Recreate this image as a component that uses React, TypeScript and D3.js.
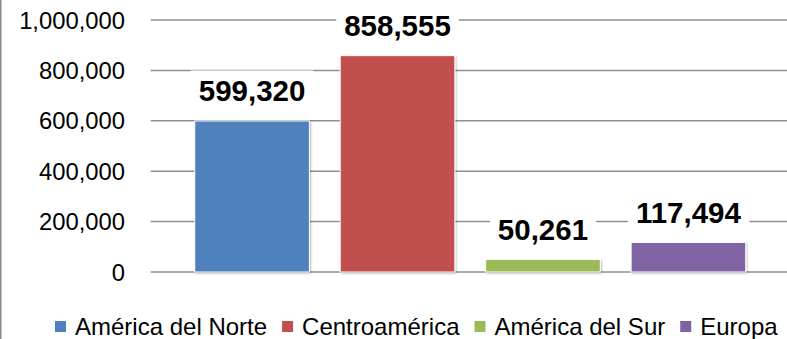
import React, { useEffect, useRef } from "react";
import * as d3 from "d3";

const categories = ["América del Norte", "Centroamérica", "América del Sur", "Europa"];
const values = [599320, 858555, 50261, 117494];
const colors = ["#4F81BD", "#C0504D", "#9BBB59", "#8064A2"];
const yTicks = [0, 200000, 400000, 600000, 800000, 1000000];

const W = 787;
const H = 339;
const FONT = "'Liberation Sans', Arial, sans-serif";

export default function App() {
  const ref = useRef<SVGSVGElement | null>(null);

  useEffect(() => {
    const svg = d3.select(ref.current);
    svg.selectAll("*").remove();

    const defs = svg.append("defs");
    const f = defs.append("filter").attr("id", "sh").attr("x", "-10%").attr("y", "-10%").attr("width", "130%").attr("height", "130%");
    f.append("feDropShadow").attr("dx", 1).attr("dy", 1).attr("stdDeviation", 1).attr("flood-color", "#000").attr("flood-opacity", 0.28);

    svg.append("rect").attr("width", W).attr("height", H).attr("fill", "#fff");
    svg.append("line").attr("x1", 0.75).attr("x2", 0.75).attr("y1", 0).attr("y2", H).attr("stroke", "#8c8c8c").attr("stroke-width", 1.5);

    const y = d3.scaleLinear().domain([0, 1000000]).range([272, 20]);
    const x = d3.scaleBand<string>().domain(categories).range([179.35, 761.15]).paddingInner(0.212).paddingOuter(0.106);
    const fmt = d3.format(",");

    // gridlines
    svg.append("g").selectAll("line").data(yTicks).join("line")
      .attr("x1", 150.7).attr("x2", W)
      .attr("y1", (d) => y(d)).attr("y2", (d) => y(d))
      .attr("stroke", "#8f8f8f").attr("stroke-width", 1.5);

    // tick labels
    svg.append("g").selectAll("text").data(yTicks).join("text")
      .attr("x", 125).attr("y", (d) => y(d)).attr("dy", "0.36em")
      .attr("text-anchor", "end")
      .attr("font-family", FONT).attr("font-size", 23.8).attr("fill", "#000")
      .text((d) => fmt(d));

    // bars
    svg.append("g").selectAll("rect").data(values).join("rect")
      .attr("x", (_, i) => x(categories[i])!)
      .attr("width", x.bandwidth())
      .attr("y", (d) => y(d))
      .attr("height", (d) => y(0) - y(d))
      .attr("fill", (_, i) => colors[i])
      .attr("stroke", "#fff").attr("stroke-width", 1)
      .attr("filter", "url(#sh)");

    // data labels
    const lg = svg.append("g");
    values.forEach((v, i) => {
      const cx = x(categories[i])! + x.bandwidth() / 2;
      const base = y(v) - 19.5;
      const g = lg.append("g");
      const r = g.append("rect").attr("fill", "#fff");
      const t = g.append("text")
        .attr("x", cx).attr("y", base)
        .attr("text-anchor", "middle")
        .attr("font-family", FONT).attr("font-weight", "bold").attr("font-size", 29.5).attr("fill", "#000")
        .text(fmt(v));
      const bb = (t.node() as SVGTextElement).getBBox();
      r.attr("x", bb.x - 8).attr("y", bb.y - 4).attr("width", bb.width + 16).attr("height", bb.height + 4);
    });

    // legend
    const leg = svg.append("g");
    let lx = 55;
    const sq = 11;
    categories.forEach((c, i) => {
      leg.append("rect").attr("x", lx).attr("y", 321).attr("width", sq).attr("height", sq).attr("fill", colors[i]);
      const t = leg.append("text")
        .attr("x", lx + sq + 9).attr("y", 326.5).attr("dy", "0.36em")
        .attr("font-family", FONT).attr("font-size", 24).attr("fill", "#000")
        .text(c);
      const w = (t.node() as SVGTextElement).getComputedTextLength();
      lx = lx + sq + 9 + w + 15;
    });
  }, []);

  return (
    <svg ref={ref} width={W} height={H} style={{ position: "absolute", left: 0, top: 0, display: "block" }} />
  );
}
